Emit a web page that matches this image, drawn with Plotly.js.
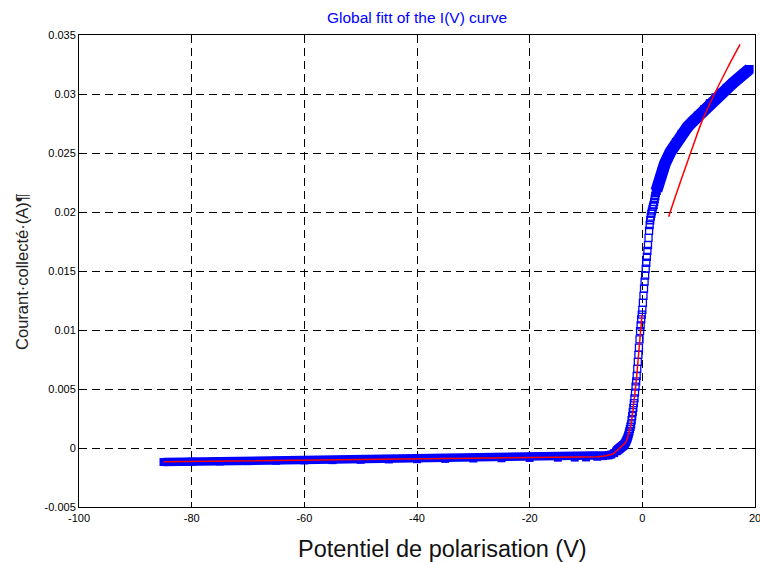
<!DOCTYPE html>
<html>
<head>
<meta charset="utf-8">
<script src="https://cdn.plot.ly/plotly-3.0.1.min.js"></script>
<style>html,body{margin:0;padding:0;background:#fff;}#chart{width:760px;height:562px;}</style>
</head>
<body>
<div id="chart"></div>
<script>
// ---- Data ----
// Measured I(V): flat (ion saturation) part, shown as a dense band
var bandLeftV = [-85,-80,-75,-70,-65,-60,-55,-50,-45,-40,-35,-30,-25,-20,-15,-12,-10,-8,-7,-6,-5.5,-5,-4.6];
var bandLeftI = [-0.00119,-0.00116,-0.00114,-0.00111,-0.00108,-0.00105,-0.00103,-0.00100,-0.00097,-0.00095,-0.00092,-0.00089,-0.00087,-0.00084,-0.00082,-0.00081,-0.00080,-0.00074,-0.00069,-0.00062,-0.00055,-0.00043,-0.00028];

// Measured I(V): steep (transition) part, individual points every 0.1 V
var steepV = [-4.5,-4.4,-4.3,-4.2,-4.1,-4.0,-3.9,-3.8,-3.7,-3.6,-3.5,-3.4,-3.3,-3.2,-3.1,-3.0,-2.9,-2.8,-2.7,-2.6,-2.5,-2.4,-2.3,-2.2,-2.1,-2.0,-1.9,-1.8,-1.7,-1.6,-1.5,-1.4,-1.3,-1.2,-1.1,-1.0,-0.9,-0.8,-0.7,-0.6,-0.5,-0.4,-0.3,-0.2,-0.1,0.0,0.1,0.2,0.3,0.4,0.5,0.6,0.7,0.8,0.9,1.0,1.1,1.2,1.3,1.4,1.5,1.6,1.7,1.8,1.9,2.0,2.1,2.2,2.3,2.4,2.5];
var steepI = [-0.00022,-0.00018,-0.00014,-0.00010,-0.00006,-0.00002,0.00002,0.00006,0.00010,0.00013,0.00017,0.00021,0.00025,0.00030,0.00037,0.00045,0.00055,0.00066,0.00078,0.00090,0.00105,0.00122,0.00140,0.00160,0.00180,0.00200,0.00235,0.00270,0.00305,0.00340,0.00380,0.00420,0.00470,0.00520,0.00565,0.00610,0.00670,0.00730,0.00790,0.00850,0.00920,0.00990,0.01040,0.01090,0.01130,0.01170,0.01230,0.01290,0.01350,0.01410,0.01460,0.01520,0.01570,0.01620,0.01670,0.01720,0.01780,0.01840,0.01890,0.01930,0.01960,0.01985,0.02005,0.02025,0.02045,0.02060,0.02085,0.02110,0.02135,0.02160,0.02180];

// Measured I(V): electron part, shown as a dense band
var bandRightV = [2.5,3,3.5,4,5,6,7,8,9,10,11,12,13,14,15,16,17,18,19];
var bandRightI = [0.0218,0.0228,0.0235,0.0241,0.0251,0.0259,0.0266,0.0272,0.0277,0.0282,0.0287,0.0292,0.0297,0.0301,0.0305,0.0309,0.0313,0.0317,0.0321];

// Fit curves (red)
var fitLowV = [-85,-70,-55,-40,-25,-15,-10,-8,-7,-6,-5.5,-5,-4.5,-4,-3.5,-3,-2.6,-2.3,-2,-1.8,-1.6,-1.4,-1.24,-1,-0.83,-0.6,-0.41,-0.2,-0.05];
var fitLowI = [-0.00117,-0.00109,-0.00101,-0.00093,-0.00086,-0.00082,-0.00080,-0.00074,-0.00069,-0.00062,-0.00055,-0.00043,-0.00022,-0.00002,0.00017,0.00045,0.0009,0.0014,0.0020,0.0027,0.0034,0.0042,0.0050,0.0061,0.0071,0.0085,0.0099,0.0109,0.0113];
var fitHighV = [4.67,6,7.45,9,10.6,12.8,15,17.35];
var fitHighI = [0.0196,0.0215,0.0235,0.0256,0.0277,0.0300,0.0321,0.0342];

// Axis ticks
var xTickVals = [-100,-80,-60,-40,-20,0,20];
var xTickText = ['-100','-80','-60','-40','-20','0','20'];
var yTickVals = [-0.005,0,0.005,0.01,0.015,0.02,0.025,0.03,0.035];
var yTickText = ['-0.005','0','0.005','0.01','0.015','0.02','0.025','0.03','0.035'];

var titleText = 'Global fitt of the I(V) curve';
var xTitle = 'Potentiel de polarisation (V)';
var yTitle = 'Courant\u00b7collect\u00e9\u00b7(A)\u00b6';

// ---- Chart ----
var BLUE = '#0000ff', RED = '#ff0000';
var FONT = 'Liberation Sans, Arial, sans-serif';

var traces = [
  {x: bandLeftV, y: bandLeftI, type: 'scatter', mode: 'lines+markers',
   line: {color: BLUE, width: 8.5}, marker: {symbol: 'square', size: 8, color: BLUE},
   hoverinfo: 'skip'},
  {x: steepV, y: steepI, type: 'scatter', mode: 'markers',
   marker: {symbol: 'square-open', size: 7, color: BLUE, line: {color: BLUE, width: 1.3}},
   hoverinfo: 'skip'},
  {x: bandRightV, y: bandRightI, type: 'scatter', mode: 'lines+markers',
   line: {color: BLUE, width: 12}, marker: {symbol: 'square', size: 8.5, color: BLUE},
   hoverinfo: 'skip'},
  {x: fitLowV, y: fitLowI, type: 'scatter', mode: 'lines',
   line: {color: RED, width: 1.5}, hoverinfo: 'skip'},
  {x: fitHighV, y: fitHighI, type: 'scatter', mode: 'lines',
   line: {color: RED, width: 1.5, shape: 'spline'}, hoverinfo: 'skip'}
];

var axisCommon = {
  showline: true, linecolor: '#000', linewidth: 1, mirror: 'ticks',
  ticks: 'inside', ticklen: 5, tickcolor: '#000', tickwidth: 1,
  showgrid: true, gridcolor: '#000', gridwidth: 1, griddash: '8px,5px',
  zeroline: false, tickmode: 'array', ticklabeloverflow: 'allow',
  tickfont: {family: FONT, size: 11, color: '#000'}
};

var layout = {
  width: 760, height: 562,
  paper_bgcolor: '#fff', plot_bgcolor: '#fff',
  margin: {l: 79, r: 5, t: 35, b: 55},
  showlegend: false,
  title: {text: titleText, font: {family: FONT, size: 15.5, color: BLUE},
          x: 0.5, xref: 'paper', y: 1 - 18 / 562, yref: 'container', yanchor: 'middle'},
  xaxis: Object.assign({}, axisCommon, {range: [-100, 20], tickvals: xTickVals, ticktext: xTickText, ticklabelstandoff: 1}),
  yaxis: Object.assign({}, axisCommon, {range: [-0.005, 0.035], tickvals: yTickVals, ticktext: yTickText}),
  annotations: [
    {text: xTitle, xref: 'paper', yref: 'paper', x: 0.538, y: -0.089,
     xanchor: 'center', yanchor: 'middle', showarrow: false,
     font: {family: FONT, size: 23.5, color: '#111'}},
    {text: yTitle, xref: 'paper', yref: 'paper', x: -0.0843, y: 0.498,
     xanchor: 'center', yanchor: 'middle', showarrow: false, textangle: -90,
     font: {family: FONT, size: 16.5, color: '#222'}}
  ]
};

Plotly.newPlot('chart', traces, layout, {staticPlot: true, displayModeBar: false});
</script>
</body>
</html>
